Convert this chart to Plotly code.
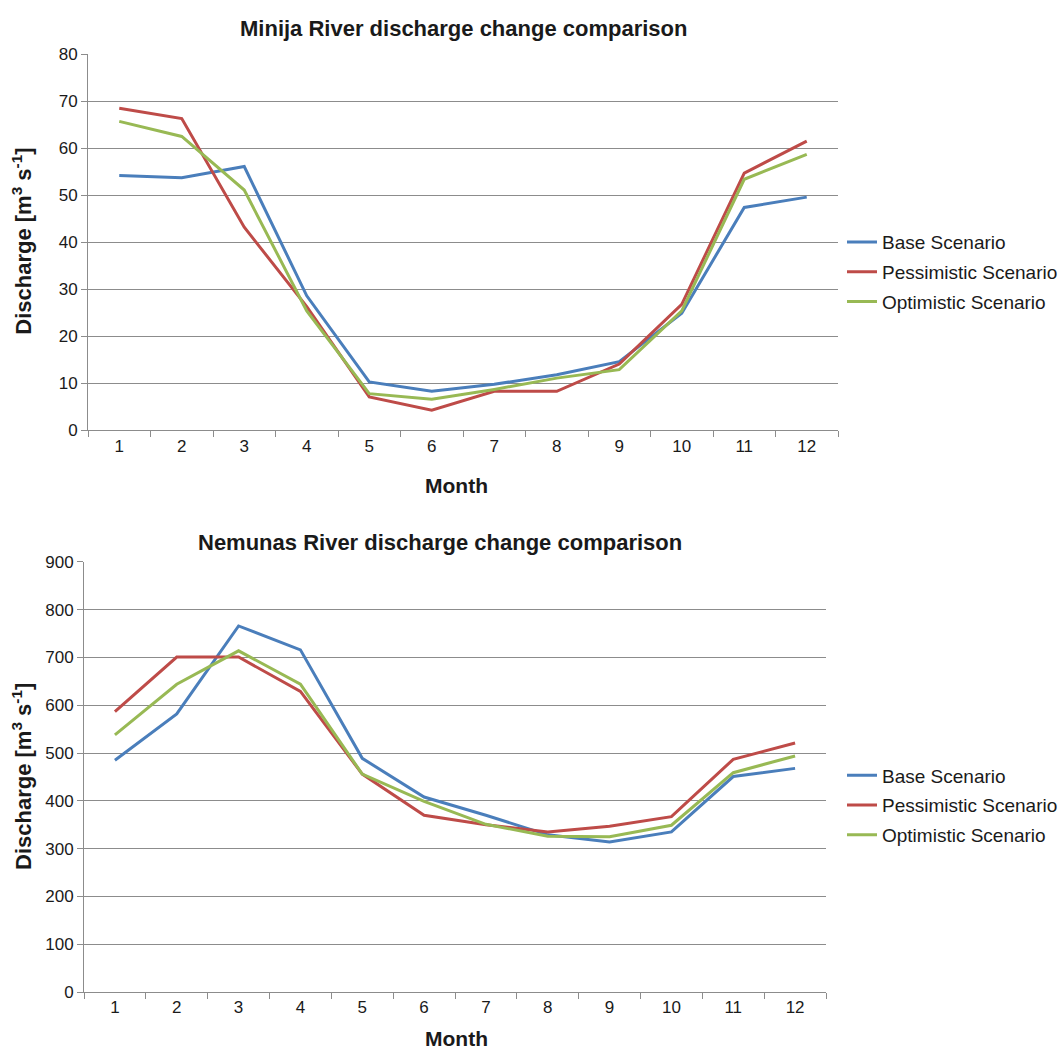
import plotly.graph_objects as go

# Monthly mean discharge, m3/s
months = [str(m) for m in range(1, 13)]
scenario_names = ["Base Scenario", "Pessimistic Scenario", "Optimistic Scenario"]
line_colors = ["#4A7EBB", "#BE4B48", "#98B954"]

minija_base = [54.2, 53.7, 56.1, 28.6, 10.3, 8.3, 9.8, 11.8, 14.6, 24.9, 47.4, 49.6]
minija_pessimistic = [68.5, 66.3, 43.2, 26.3, 7.1, 4.3, 8.3, 8.3, 14.1, 26.8, 54.7, 61.5]
minija_optimistic = [65.7, 62.5, 51.1, 25.4, 7.8, 6.6, 8.7, 11.1, 12.9, 25.4, 53.4, 58.7]

nemunas_base = [485, 582, 766, 716, 489, 408, 370, 329, 314, 335, 451, 468]
nemunas_pessimistic = [587, 701, 701, 629, 456, 370, 350, 335, 347, 367, 487, 521]
nemunas_optimistic = [538, 644, 714, 644, 456, 399, 351, 326, 325, 349, 459, 494]

W, H = 1063, 1060
FONT = "Liberation Sans, Arial, sans-serif"
GRID = "#8C8C8C"
TEXT = "#1a1a1a"


def px_x(v):
    return v / W


def px_y(v):
    return 1 - v / H


fig = go.Figure()

panels = [
    ("x", "y", "legend", [minija_base, minija_pessimistic, minija_optimistic]),
    ("x2", "y2", "legend2", [nemunas_base, nemunas_pessimistic, nemunas_optimistic]),
]
for xa, ya, lg, series in panels:
    for name, color, vals in zip(scenario_names, line_colors, series):
        fig.add_trace(go.Scatter(
            x=months, y=vals, name=name, mode="lines",
            line=dict(color=color, width=3),
            xaxis=xa, yaxis=ya, legend=lg, legendgroup=lg + name,
        ))

common_x = dict(
    type="category", tickson="boundaries", ticks="outside", ticklen=6,
    tickcolor=GRID, showline=True, linecolor=GRID, linewidth=1,
    showgrid=False, tickfont=dict(family=FONT, size=17, color=TEXT),
    zeroline=False, fixedrange=True, range=[-0.5, 11.5],
)
common_y = dict(
    ticks="outside", ticklen=6, tickcolor=GRID, showline=True,
    linecolor=GRID, linewidth=1, showgrid=True, gridcolor=GRID,
    gridwidth=1, zeroline=False,
    tickfont=dict(family=FONT, size=17, color=TEXT), fixedrange=True,
)

# Legends sit flush against the right edge so they never push the margins
legend_style = dict(
    xanchor="right", yanchor="middle", x=1.0,
    font=dict(family=FONT, size=19, color=TEXT),
    bgcolor="rgba(0,0,0,0)", tracegroupgap=2,
)

fig.update_layout(
    width=W, height=H,
    margin=dict(l=0, r=0, t=0, b=0),
    paper_bgcolor="white", plot_bgcolor="white",
    xaxis=dict(common_x, domain=[px_x(88), px_x(838)], anchor="y"),
    yaxis=dict(common_y, domain=[px_y(429), px_y(46)], range=[0, 80],
               dtick=10, anchor="x"),
    xaxis2=dict(common_x, domain=[px_x(84), px_x(826)], anchor="y2"),
    yaxis2=dict(common_y, domain=[px_y(1001), px_y(563)], range=[0, 900],
                dtick=100, anchor="x2"),
    legend=dict(legend_style, y=px_y(268)),
    legend2=dict(legend_style, y=px_y(811)),
    showlegend=True,
)

title_font = dict(family=FONT, size=22, color=TEXT)
month_font = dict(family=FONT, size=21, color=TEXT)
ytitle_font = dict(family=FONT, size=22, color=TEXT)
annotations = [
    dict(text="<b>Minija River discharge change comparison</b>",
         x=px_x(463), y=px_y(20), font=title_font),
    dict(text="<b>Nemunas River discharge change comparison</b>",
         x=px_x(440), y=px_y(543), font=title_font),
    dict(text="<b>Month</b>", x=px_x(456), y=px_y(485), font=month_font),
    dict(text="<b>Month</b>", x=px_x(456), y=px_y(1048), font=month_font),
    dict(text="<b>Discharge [m<sup>3</sup> s<sup>-1</sup>]</b>", x=px_x(22),
         y=px_y(237), textangle=-90, font=ytitle_font),
    dict(text="<b>Discharge [m<sup>3</sup> s<sup>-1</sup>]</b>", x=px_x(22),
         y=px_y(782), textangle=-90, font=ytitle_font),
]
for a in annotations:
    a.update(xref="paper", yref="paper", showarrow=False,
             xanchor="center", yanchor="middle")
fig.update_layout(annotations=annotations)

fig.write_html("out.html")
